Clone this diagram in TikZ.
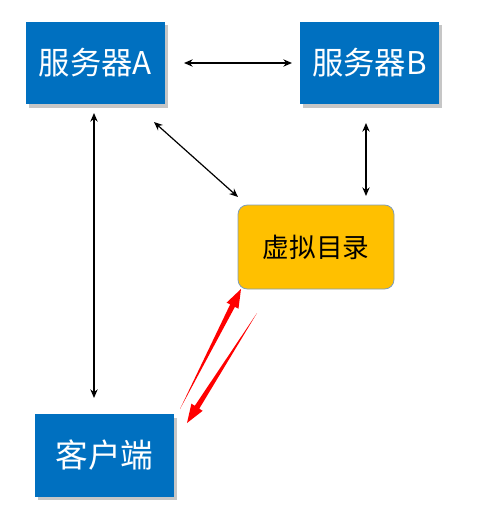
\documentclass[tikz,border=0pt]{standalone}
\usepackage{fontspec}
\setmainfont{Noto Sans CJK SC}
\usepackage{xcolor}
\usepackage{tikz}
\usetikzlibrary{arrows.meta,calc,shadows}

\definecolor{srvblue}{HTML}{0070C0}
\definecolor{dirgold}{HTML}{FFC000}
\definecolor{dirline}{HTML}{7F9DB9}

% tapered red arrow from #1 to #2
\newcommand{\taperarrow}[2]{%
  \fill[red] (#1) -- ($($(#2)!14pt!(#1)$)!2pt!90:(#2)$)
    -- ($($(#2)!14pt!(#1)$)!5pt!90:(#2)$) -- (#2)
    -- ($($(#2)!14pt!(#1)$)!5pt!-90:(#2)$)
    -- ($($(#2)!14pt!(#1)$)!2pt!-90:(#2)$) -- cycle;}

\begin{document}
\begin{tikzpicture}[x=0.75pt,y=-0.75pt,>={Stealth[length=6.5pt,width=5.5pt]}]
\tikzstyle{srv}=[rectangle,fill=srvblue,text=white,minimum width=104pt,minimum height=62pt,inner sep=0pt,font=\fontsize{23.5}{26}\selectfont,drop shadow={shadow xshift=2pt,shadow yshift=-2.5pt,opacity=0.45}]
\tikzstyle{dir}=[rectangle,rounded corners=7pt,fill=dirgold,draw=dirline,line width=0.6pt,minimum width=117pt,minimum height=63pt,inner sep=0pt,font=\fontsize{20}{23}\selectfont]
\tikzstyle{link}=[<->,line width=0.9pt]
\useasboundingbox (0,0) rectangle (480,507);
\node[srv] (srvA) at (95.5,63) {服务器A};
\node[srv] (srvB) at (369.5,63) {服务器B};
\node[dir] (vdir) at (316,247) {虚拟目录};
\node[srv,font=\fontsize{24.5}{27}\selectfont] (client) at (104.5,455.5) {客户端};
\coordinate (ab1) at (184,63);
\coordinate (ab2) at (292,63);
\coordinate (ac1) at (94,113);
\coordinate (ac2) at (94,398);
\coordinate (av1) at (154,122);
\coordinate (av2) at (238,197);
\coordinate (bv1) at (366,123);
\coordinate (bv2) at (366,196);
\draw[link] (ab1) -- (ab2);
\draw[link] (ac1) -- (ac2);
\draw[link] (av1) -- (av2);
\draw[link] (bv1) -- (bv2);
% red request / response
\coordinate (up1) at (180,409);
\coordinate (up2) at (241,289);
\coordinate (dn1) at (257,313);
\coordinate (dn2) at (187,423);
\taperarrow{up1}{up2}
\taperarrow{dn1}{dn2}
\end{tikzpicture}
\end{document}
